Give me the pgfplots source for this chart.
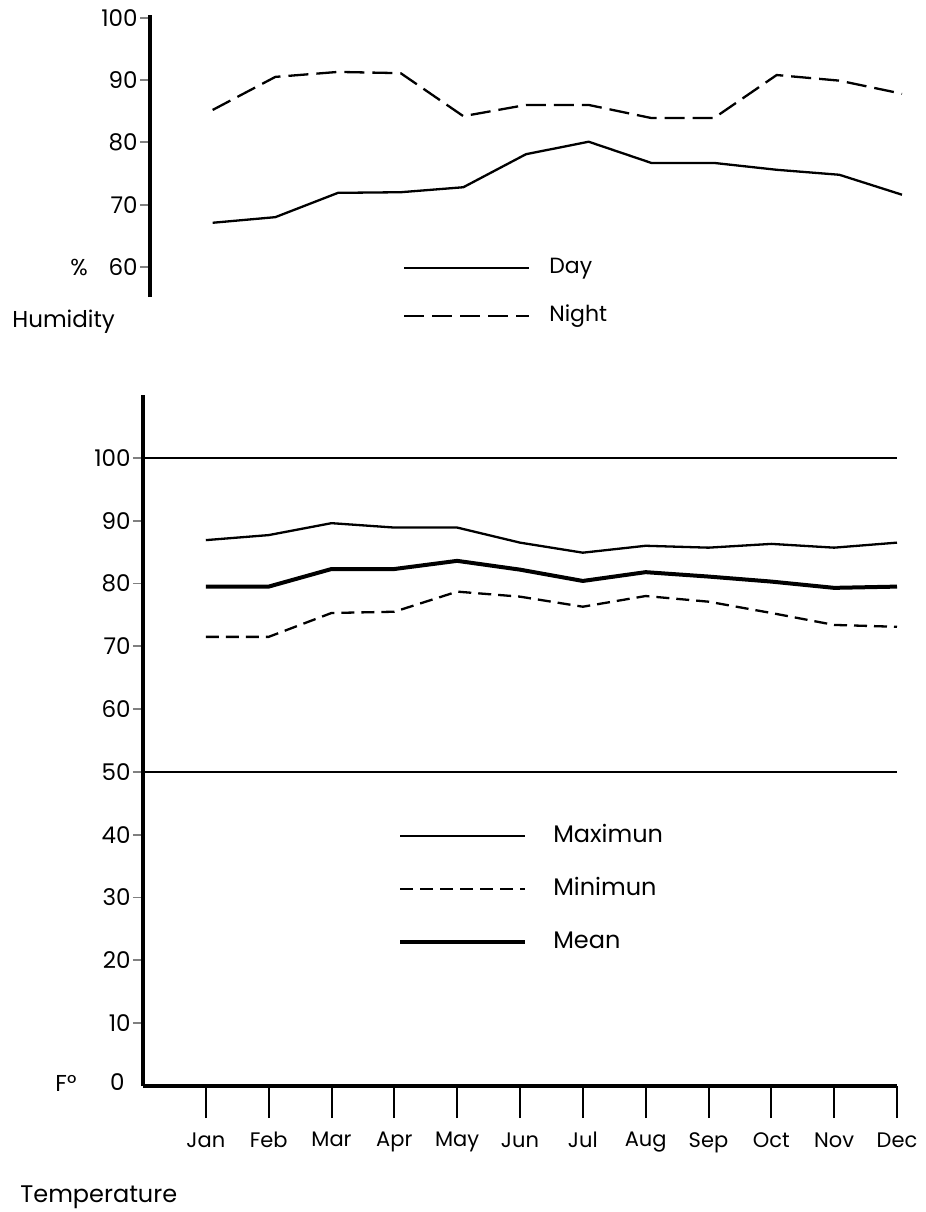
\documentclass[border=0pt]{standalone}
\usepackage{pgfplots}
\pgfplotsset{compat=1.18}
\usepackage{fontspec}
\setmainfont{Poppins}

\begin{document}
\begin{tikzpicture}[x=1pt,y=1pt]
\path[use as bounding box] (0,0) rectangle (463,-606);

% ---------------- Humidity ----------------
\begin{axis}[
  at={(75pt,-148.5pt)}, anchor=south west,
  scale only axis, width=376pt, height=141pt,
  xmin=0, xmax=12, ymin=55.19, ymax=100.43,
  axis x line=none, axis y line*=left,
  xtick=\empty,
  ytick={60,70,80,90,100},
  tick align=outside, major tick length=5pt,
  y axis line style={line width=1.6pt},
  ytick style={line width=0.9pt},
  yticklabel style={font=\fontsize{11.5}{13}\selectfont, inner sep=1pt},
  /pgf/number format/assume math mode=true,
  clip=false,
  legend image code/.code={\draw[#1] (0pt,0pt) -- (62.5pt,0pt);},
  legend style={at={(axis description cs:0.336,0.018)}, anchor=west,
    draw=none, fill=none, inner sep=0pt, row sep=14pt, column sep=9.5pt,
    font=\fontsize{11}{13}\selectfont,
    nodes={inner sep=0pt, text height=8pt, text depth=2pt}},
  legend cell align=left,
]
\addplot[black, line width=1.15pt] coordinates {
 (1,67.1) (2,68.0) (3,71.9) (4,72.0) (5,72.8) (6,78.1)
 (7,80.1) (8,76.7) (9,76.7) (10,75.6) (11,74.8) (12,71.6)};
\addlegendentry{Day}
\addplot[black, line width=1.15pt, dash pattern=on 10pt off 4pt] coordinates {
 (1,85.2) (2,90.5) (3,91.3) (4,91.1) (5,84.2) (6,86.0)
 (7,86.0) (8,83.9) (9,83.9) (10,90.8) (11,89.9) (12,87.8)};
\addlegendentry{Night}
\end{axis}

% ---------------- Temperature ----------------
\begin{axis}[
  at={(71.5pt,-543pt)}, anchor=south west,
  scale only axis, width=377pt, height=345.5pt,
  xmin=0, xmax=12, ymin=0, ymax=110,
  axis x line*=bottom, axis y line*=left,
  xtick={1,...,12},
  xticklabels={Jan,Feb,Mar,Apr,May,Jun,Jul,Aug,Sep,Oct,Nov,Dec},
  xtick style={draw=none},
  ytick={10,20,...,100},
  extra y ticks={0},
  extra y tick style={ytick style={draw=none}, yticklabel style={xshift=-3pt, yshift=2pt}},
  tick align=outside, major tick length=5pt,
  ytick style={line width=0.9pt},
  axis line style={line width=1.6pt},
  xticklabel style={font=\fontsize{10.5}{12}\selectfont, inner sep=1pt, yshift=-17pt},
  yticklabel style={font=\fontsize{11.5}{13}\selectfont, inner sep=1pt},
  /pgf/number format/assume math mode=true,
  clip=false,
  legend image code/.code={\draw[#1] (0pt,0pt) -- (62.5pt,0pt);},
  legend style={at={(axis description cs:0.338,0.285)}, anchor=west,
    draw=none, fill=none, inner sep=0pt, row sep=16.5pt, column sep=13pt,
    font=\fontsize{12}{14}\selectfont,
    nodes={inner sep=0pt, text height=8pt, text depth=2pt}},
  legend cell align=left,
]
\addplot[black, line width=1pt, forget plot] coordinates {(0,100) (12,100)};
\addplot[black, line width=1pt, forget plot] coordinates {(0,50) (12,50)};
\addplot[black, line width=1.15pt] coordinates {
 (1,86.9) (2,87.7) (3,89.6) (4,88.9) (5,88.9) (6,86.5)
 (7,84.9) (8,86.0) (9,85.7) (10,86.3) (11,85.7) (12,86.5)};
\addlegendentry{Maximun}
\addplot[black, line width=1.15pt, dash pattern=on 6.5pt off 3.5pt] coordinates {
 (1,71.5) (2,71.5) (3,75.3) (4,75.5) (5,78.7) (6,77.9)
 (7,76.3) (8,78.0) (9,77.1) (10,75.3) (11,73.4) (12,73.1)};
\addlegendentry{Minimun}
\addplot[black, line width=2pt] coordinates {
 (1,79.5) (2,79.5) (3,82.3) (4,82.3) (5,83.6) (6,82.2)
 (7,80.4) (8,81.8) (9,81.1) (10,80.3) (11,79.3) (12,79.5)};
\addlegendentry{Mean}
\end{axis}

% month tick marks (long, hanging below the axis)
\begin{axis}[
  at={(71.5pt,-543pt)}, anchor=south west,
  scale only axis, width=377pt, height=345.5pt,
  xmin=0, xmax=12, ymin=0, ymax=110,
  axis x line*=bottom, axis y line=none,
  x axis line style={draw=none},
  xtick={1,...,12}, xticklabels=\empty, ytick=\empty,
  tick align=outside, major tick length=16pt,
  xtick style={line width=1pt, black},
]
\end{axis}

% ---------------- labels ----------------
\node[font=\fontsize{11.5}{13}\selectfont] at (39.5,-133.5) {\%};
\node[anchor=west, inner sep=0pt, font=\fontsize{11.5}{13}\selectfont] at (6,-161) {Humidity};
\node[font=\fontsize{11.5}{13}\selectfont] at (33,-541.5) {F°};
\node[anchor=west, inner sep=0pt, font=\fontsize{12}{14}\selectfont] at (10,-598.5) {Temperature};
\end{tikzpicture}
\end{document}
